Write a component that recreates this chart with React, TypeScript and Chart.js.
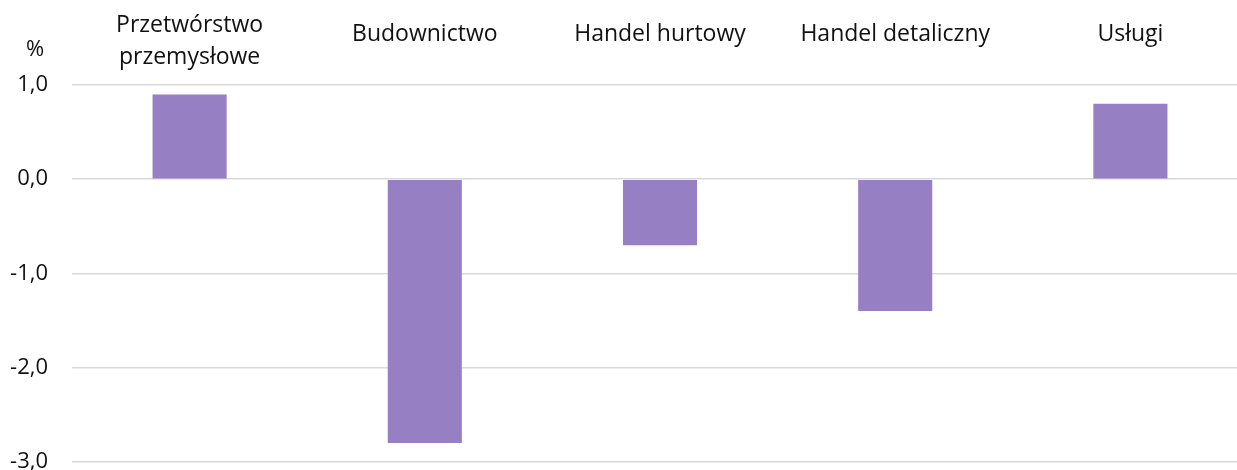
import React, { useEffect, useRef } from 'react';
import { Chart, registerables } from 'chart.js';

Chart.register(...registerables);

const categories: (string | string[])[] = [
  ['Przetwórstwo', 'przemysłowe'],
  'Budownictwo',
  'Handel hurtowy',
  'Handel detaliczny',
  'Usługi',
];
const values: number[] = [0.9, -2.8, -0.7, -1.4, 0.8];
const yMin = -3;
const yMax = 1;
const yStep = 1;
const unitLabel = '%';

const FONT = "'Open Sans', sans-serif";
const BAR_COLOR = '#967FC2';
const TEXT_COLOR = '#111111';
const GRID_COLOR = '#d9d9d9';

export default function App() {
  const ref = useRef<HTMLCanvasElement>(null);

  useEffect(() => {
    if (!ref.current) return;
    const unitPlugin = {
      id: 'unitLabel',
      afterDraw(chart: any) {
        const { ctx } = chart;
        const ys = chart.scales.y;
        ctx.save();
        ctx.font = `22px ${FONT}`;
        ctx.fillStyle = TEXT_COLOR;
        ctx.textAlign = 'center';
        ctx.textBaseline = 'middle';
        ctx.fillText(unitLabel, ys.right - 37, chart.chartArea.top - 35);
        ctx.restore();
      },
    };

    const chart = new Chart(ref.current, {
      type: 'bar',
      data: {
        labels: categories as any,
        datasets: [
          {
            data: values,
            backgroundColor: BAR_COLOR,
            borderWidth: 0,
            barPercentage: 0.315,
            categoryPercentage: 1,
          },
        ],
      },
      options: {
        responsive: false,
        animation: false,
        layout: { padding: 0 },
        plugins: {
          legend: { display: false },
          tooltip: { enabled: false },
          title: { display: false },
        },
        scales: {
          x: {
            position: 'top',
            grid: { display: false, drawTicks: false },
            border: { display: false },
            ticks: {
              autoSkip: false,
              maxRotation: 0,
              minRotation: 0,
              padding: 28,
              crossAlign: 'center',
              color: TEXT_COLOR,
              font: (ctx: any) => {
                const lab = categories[ctx.index];
                const multi = Array.isArray(lab);
                return { family: FONT, size: 23, lineHeight: multi ? '32px' : '18px' };
              },
            },
            afterFit: (scale: any) => {
              scale.height = 85;
            },
          },
          y: {
            min: yMin,
            max: yMax,
            grid: { color: GRID_COLOR, lineWidth: 1.5, drawTicks: false },
            border: { display: false },
            ticks: {
              stepSize: yStep,
              padding: 24,
              color: TEXT_COLOR,
              font: { family: FONT, size: 22 },
              callback: (v: any) => Number(v).toFixed(1).replace('.', ','),
            },
            afterFit: (scale: any) => {
              scale.width = 72;
            },
          },
        },
      },
      plugins: [unitPlugin],
    });
    return () => chart.destroy();
  }, []);

  return (
    <div
      style={{
        position: 'absolute',
        left: 0,
        top: 0,
        width: 1237,
        height: 470,
        overflow: 'hidden',
        background: '#ffffff',
      }}
    >
      <canvas ref={ref} width={1248} height={499} style={{ display: 'block' }} />
    </div>
  );
}
